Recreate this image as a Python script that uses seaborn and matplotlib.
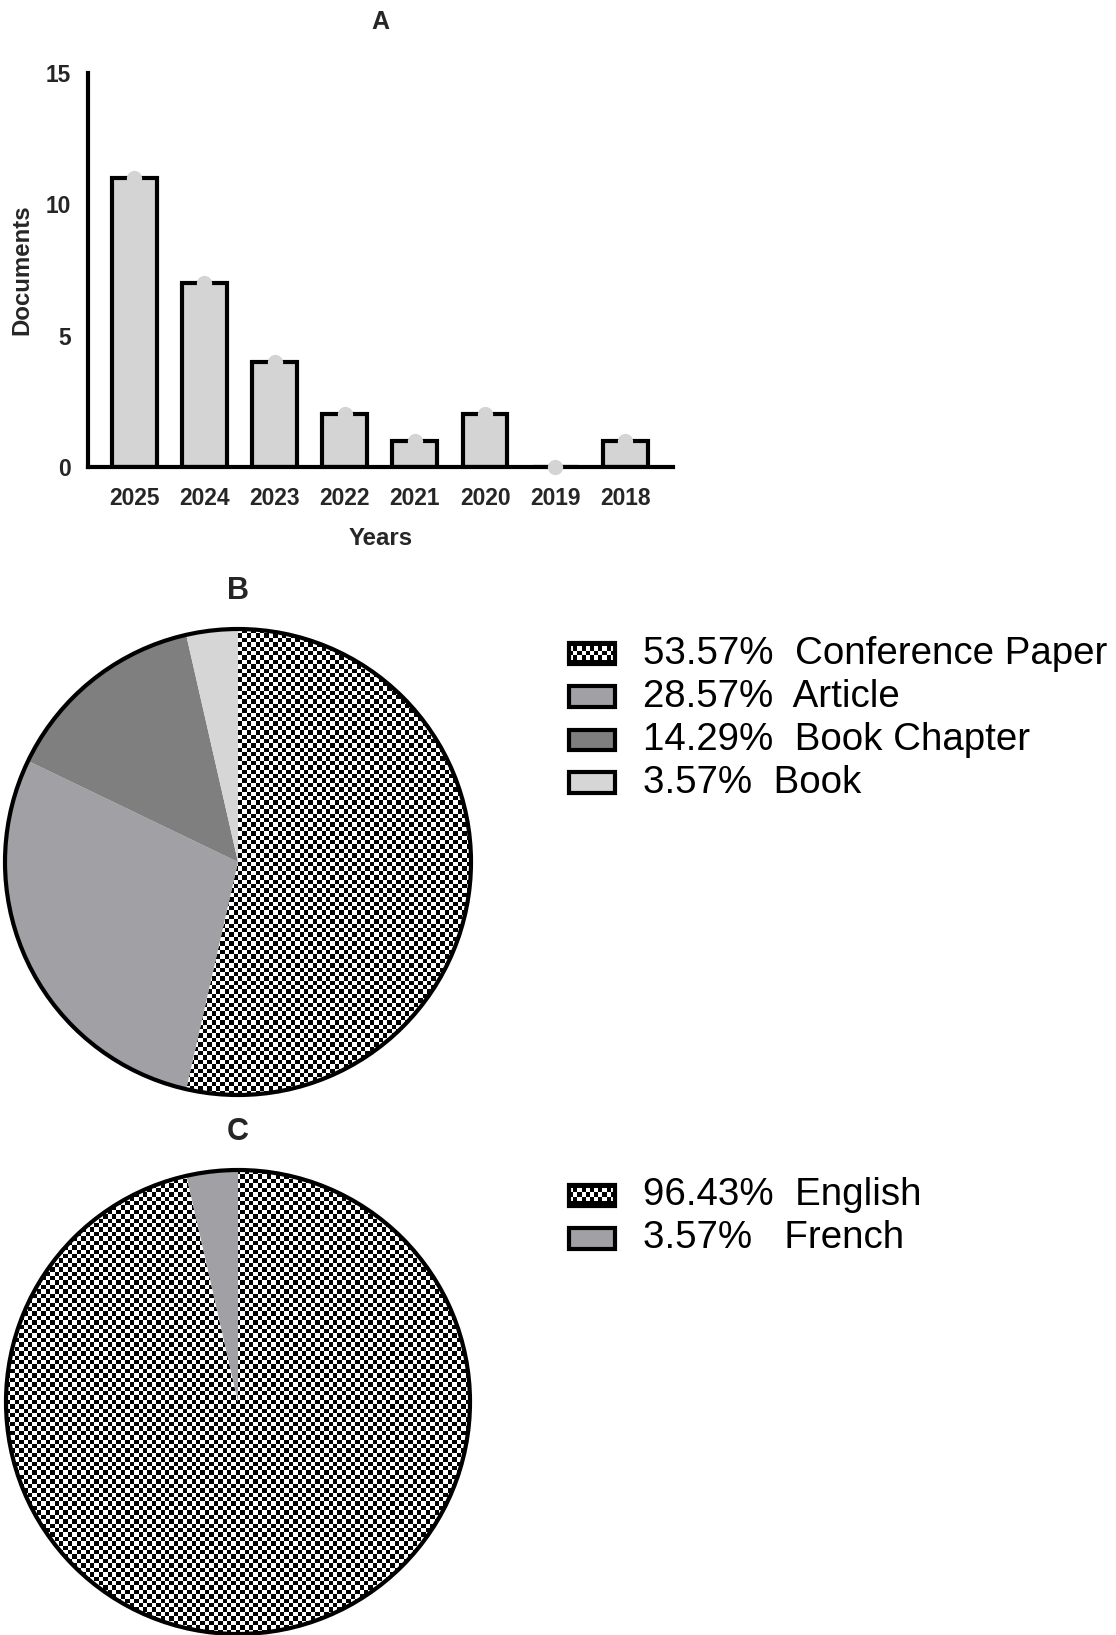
import numpy as np
import pandas as pd
import matplotlib
matplotlib.use("Agg")
import matplotlib.pyplot as plt
from matplotlib.patches import Rectangle
import seaborn as sns

# Documents per year
years = ["2025", "2024", "2023", "2022", "2021", "2020", "2019", "2018"]
documents = [11, 7, 4, 2, 1, 2, 0, 1]

# Document types
doc_types = ["Conference Paper", "Article", "Book Chapter", "Book"]
doc_type_pct = [53.57, 28.57, 14.29, 3.57]
doc_type_colors = ["checker", "#a0a0a5", "#7f7f7f", "#d6d6d6"]

# Languages
languages = ["English", "French"]
language_pct = [96.43, 3.57]
language_colors = ["checker", "#a0a0a5"]

sns.set_theme(style="white")
plt.rcParams["font.family"] = ["Liberation Sans", "DejaVu Sans"]

W, H = 1116, 1635
fig = plt.figure(figsize=(W / 100, H / 100), dpi=100)


def px_axes(x0, y0, x1, y1):
    """Axes from pixel box (top-left origin)."""
    return fig.add_axes([x0 / W, 1 - y1 / H, (x1 - x0) / W, (y1 - y0) / H])


# ---------------- A: bar chart ----------------
ax = px_axes(88, 73, 673, 467)
df = pd.DataFrame({"Years": years, "Documents": documents})
sns.barplot(data=df, x="Years", y="Documents", order=years, ax=ax,
            color="#d4d4d4", width=0.64, edgecolor="black", linewidth=3,
            saturation=1)
sns.stripplot(data=df, x="Years", y="Documents", order=years, ax=ax,
              color="#d4d4d4", size=11, jitter=False, zorder=5, clip_on=False)
ax.set_ylim(0, 15)
ax.set_xlim(-0.66, 7.68)
ax.set_yticks([0, 5, 10, 15])
for s in ["top", "right"]:
    ax.spines[s].set_visible(False)
for s in ["left", "bottom"]:
    ax.spines[s].set_linewidth(3)
    ax.spines[s].set_color("black")
ax.tick_params(axis="both", which="both", direction="out", width=3, length=7.5,
               color="black", labelsize=16.4)
ax.tick_params(axis="x", pad=7)
ax.tick_params(axis="y", pad=5)
for lab in ax.get_xticklabels() + ax.get_yticklabels():
    lab.set_fontweight("bold")
ax.set_xlabel("Years", fontsize=17.3, fontweight="bold", labelpad=12)
ax.set_ylabel("Documents", fontsize=17.3, fontweight="bold", labelpad=9)
fig.text(380 / W, 1 - 22 / H, "A", ha="center", va="center",
         fontsize=18, fontweight="bold")


# ---------------- pies ----------------
def checker_image(n_rows, n_cols=None):
    n_cols = n_rows if n_cols is None else n_cols
    r = np.arange(n_rows)[:, None]
    c = np.arange(n_cols)[None, :]
    return ((r + c) % 2).astype(float)


def draw_pie(cx, cy, r, values, colors, title):
    pax = px_axes(cx - r, cy - r, cx + r, cy + r)
    wedges, _ = pax.pie(values, startangle=90, counterclock=False,
                        colors=["white" if c == "checker" else c for c in colors],
                        wedgeprops=dict(linewidth=0), radius=1)
    pax.set_xlim(-1, 1)
    pax.set_ylim(-1, 1)
    pax.set_aspect("equal")
    pax.axis("off")
    n = int(round(2 * r / 4.4))
    for w, c in zip(wedges, colors):
        if c == "checker":
            im = pax.imshow(checker_image(n), cmap="gray", vmin=0, vmax=1,
                            extent=(-1, 1, -1, 1), interpolation="nearest",
                            zorder=1)
            im.set_clip_path(w)
            w.set_zorder(0)
        else:
            w.set_zorder(2)
    circ = plt.Circle((0, 0), 1, fill=False, edgecolor="black", linewidth=3,
                      zorder=4, clip_on=False)
    pax.add_patch(circ)
    fig.text(cx / W, 1 - (cy - r - 38) / H, title, ha="center", va="center",
             fontsize=22, fontweight="bold")
    return pax


def draw_legend(x_box, y_first, dy, values, labels, colors, gaps):
    bw, bh = 46, 21
    for i, (v, lab, c, g) in enumerate(zip(values, labels, colors, gaps)):
        yc = y_first + i * dy
        checker = c == "checker"
        if checker:
            lax = px_axes(x_box, yc - bh / 2, x_box + bw, yc + bh / 2)
            pattern = checker_image(5, 11)
            pattern[0, :] = 0
            pattern[-1, :] = 0
            lax.imshow(pattern, cmap="gray", vmin=0, vmax=1,
                       aspect="auto", interpolation="nearest")
            lax.axis("off")
        rect = Rectangle((x_box / W, 1 - (yc + bh / 2) / H), bw / W, bh / H,
                         transform=fig.transFigure,
                         facecolor="none" if checker else c,
                         edgecolor="black", linewidth=3, zorder=5)
        fig.add_artist(rect)
        fig.text((x_box + 74) / W, 1 - yc / H, f"{v:.2f}%" + g + lab,
                 ha="left", va="center", fontsize=27.7, color="black")


draw_pie(238, 862, 233, doc_type_pct, doc_type_colors, "B")
draw_legend(569, 654, 43, doc_type_pct, doc_types, doc_type_colors,
            ["  ", "  ", "  ", "  "])

draw_pie(238, 1402, 232, language_pct, language_colors, "C")
draw_legend(569, 1195, 43, language_pct, languages, language_colors,
            ["  ", "   "])

fig.savefig("out.png", dpi=100, facecolor="white")
